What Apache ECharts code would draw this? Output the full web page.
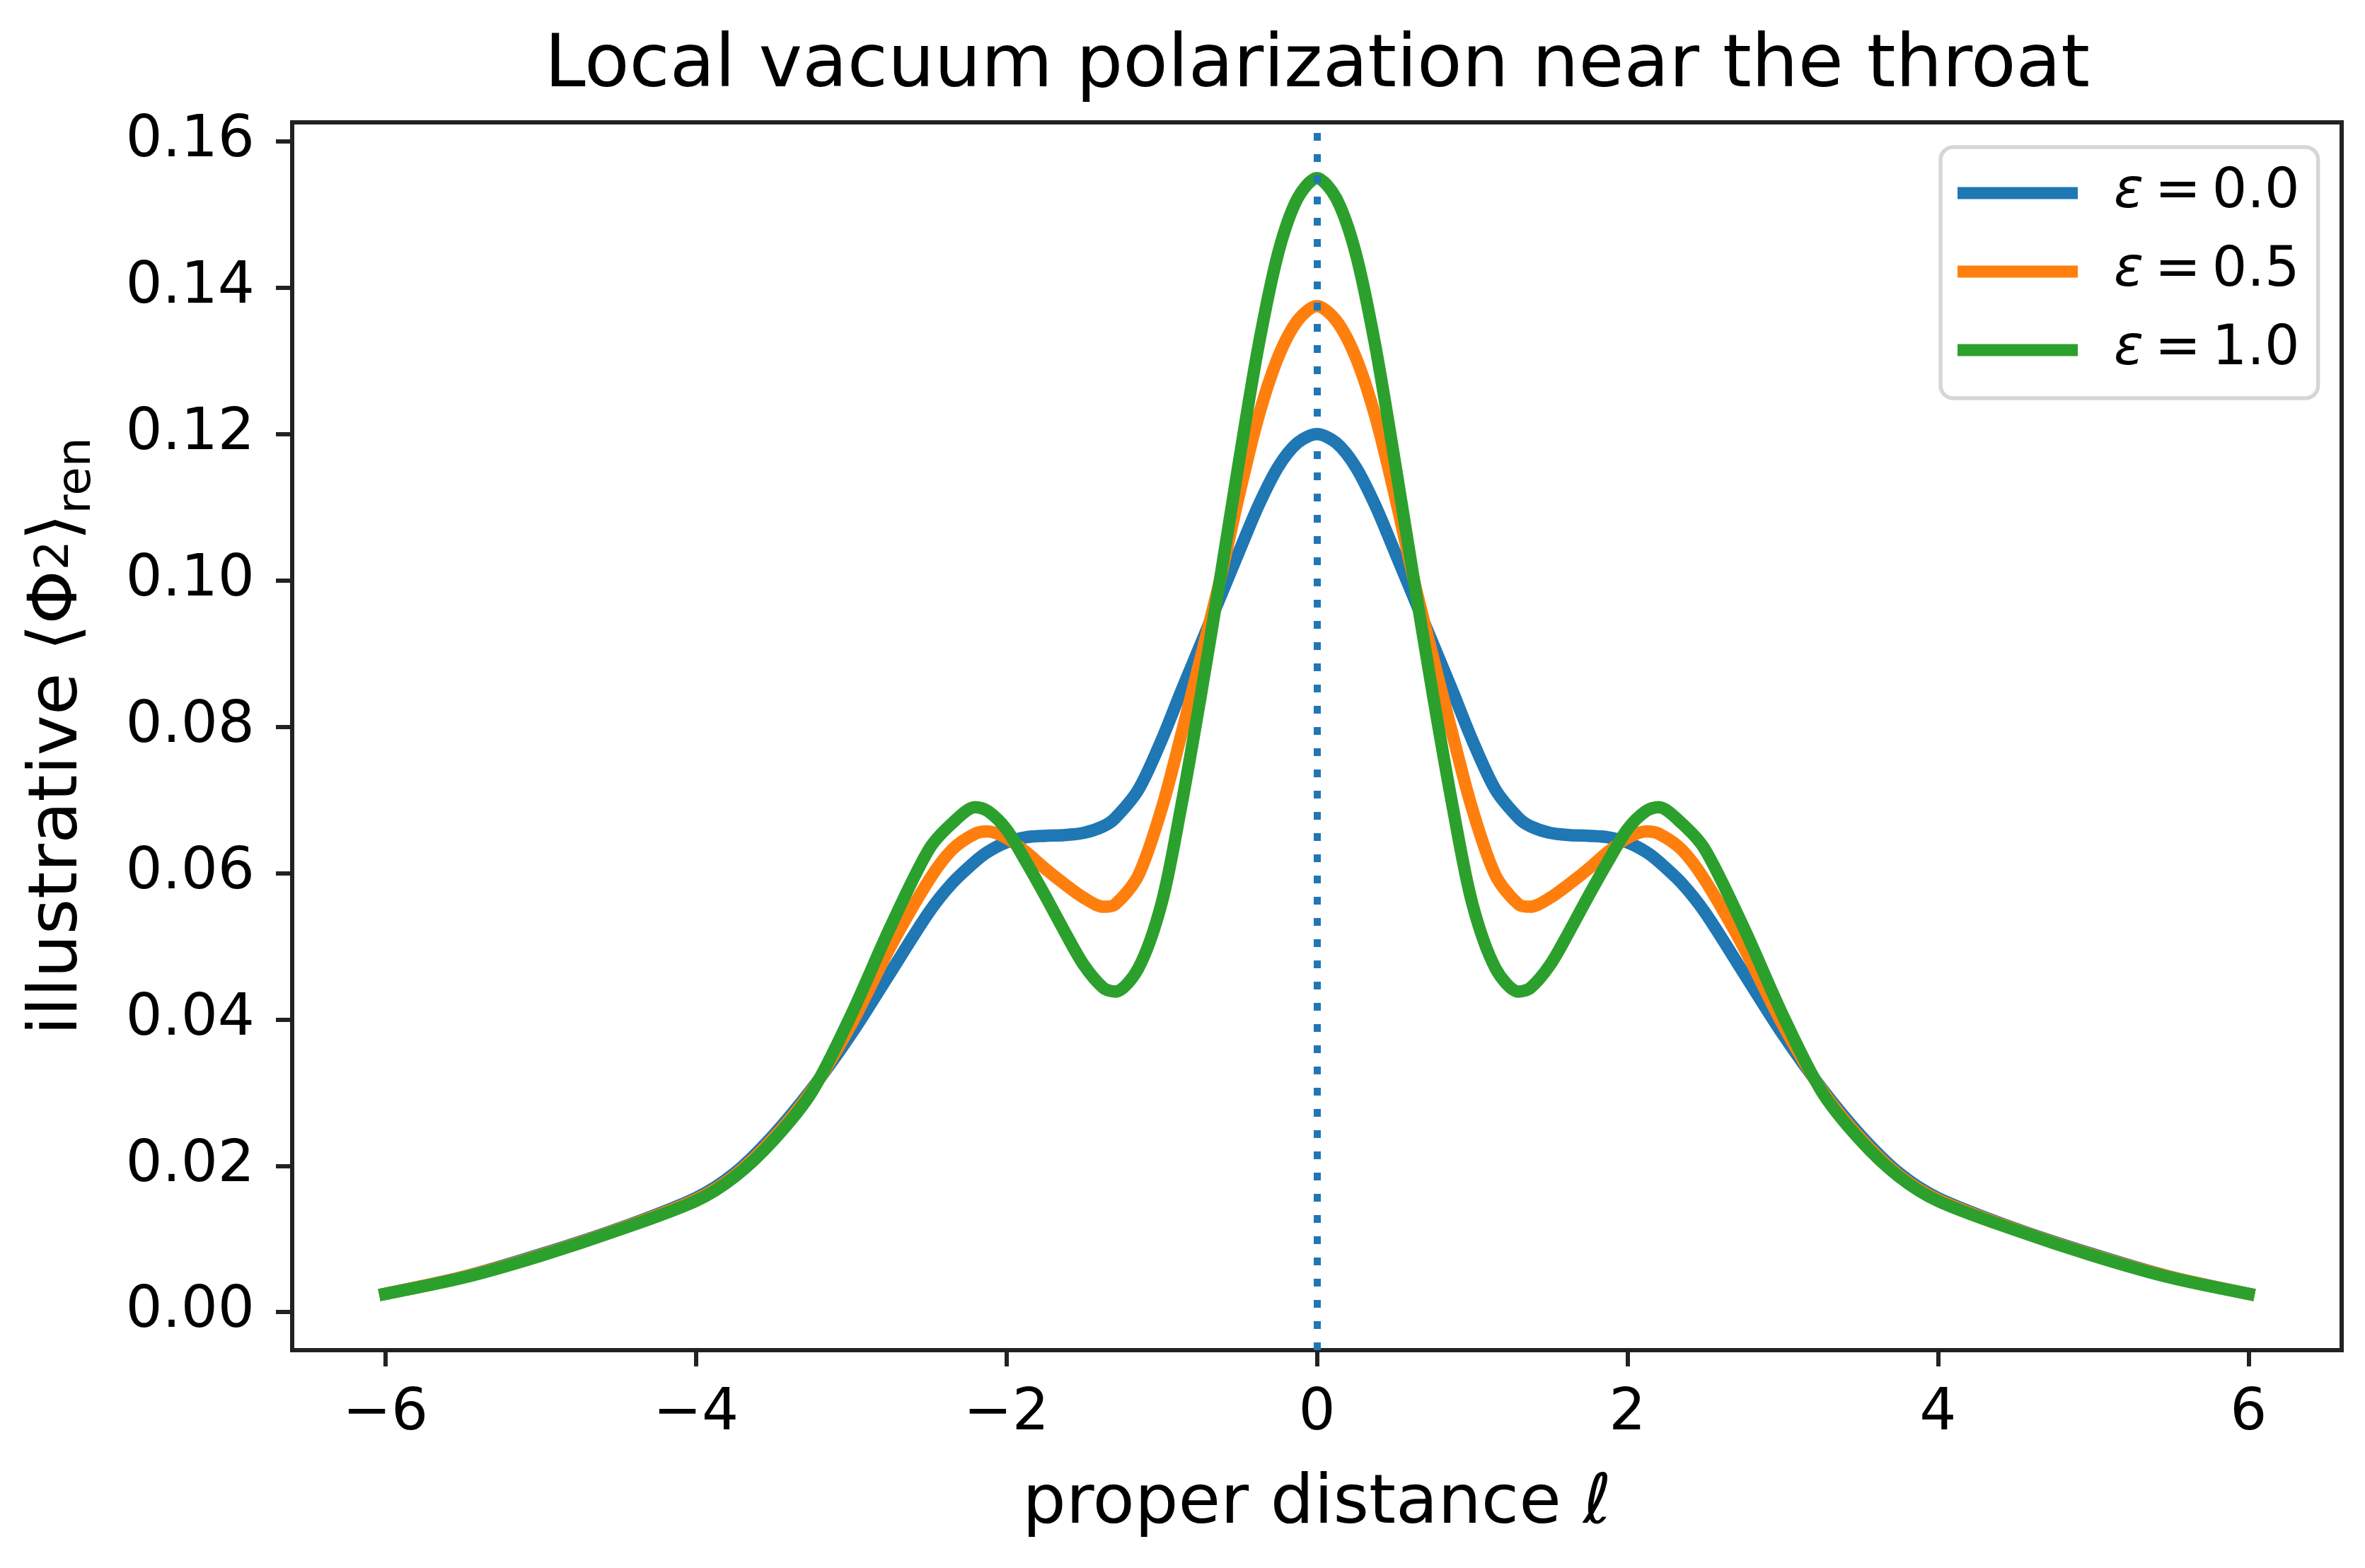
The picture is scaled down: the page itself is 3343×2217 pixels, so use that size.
<!DOCTYPE html>
<html lang="en">
<head>
  <meta charset="UTF-8">
  <title>Local vacuum polarization near the throat</title>
  <script src="https://cdn.jsdelivr.net/npm/echarts@6/dist/echarts.min.js"></script>
  <style>
    html, body { margin: 0; padding: 0; background: #fff; }
    #chart { width: 3343px; height: 2217px; }
  </style>
</head>
<body>
  <div id="chart"></div>
  <script>
    // proper distance samples
    const ell = [
      -6, -5.5, -5, -4.5, -4, -3.75, -3.5, -3.25, -3, -2.75,
      -2.5, -2.35, -2.2, -2.12, -2, -1.875, -1.75, -1.625, -1.5, -1.375,
      -1.3, -1.15, -1, -0.875, -0.75, -0.625, -0.5, -0.375, -0.25, -0.125,
      0,
      0.125, 0.25, 0.375, 0.5, 0.625, 0.75, 0.875, 1, 1.15, 1.3,
      1.375, 1.5, 1.625, 1.75, 1.875, 2, 2.12, 2.2, 2.35, 2.5,
      2.75, 3, 3.25, 3.5, 3.75, 4, 4.5, 5, 5.5, 6
    ];
    const eps00 = [
      0.0025, 0.0048, 0.0079, 0.0114, 0.0156, 0.0190, 0.0242, 0.0306, 0.0380, 0.0463,
      0.0546, 0.0586, 0.0616, 0.0629, 0.0642, 0.0649, 0.0651, 0.0652, 0.0655, 0.0664,
      0.0675, 0.0714, 0.0782, 0.0848, 0.0912, 0.0976, 0.1040, 0.1103, 0.1155, 0.1188,
      0.1200,
      0.1188, 0.1155, 0.1103, 0.1040, 0.0976, 0.0912, 0.0848, 0.0782, 0.0714, 0.0675,
      0.0664, 0.0655, 0.0652, 0.0651, 0.0649, 0.0642, 0.0629, 0.0616, 0.0586, 0.0546,
      0.0463, 0.0380, 0.0306, 0.0242, 0.0190, 0.0156, 0.0114, 0.0079, 0.0048, 0.0025
    ];
    const eps05 = [
      0.0025, 0.0048, 0.0078, 0.0113, 0.0154, 0.0187, 0.0238, 0.0304, 0.0393, 0.0498,
      0.0590, 0.0632, 0.0654, 0.0657, 0.0648, 0.0629, 0.0606, 0.0585, 0.0566, 0.0554,
      0.0557, 0.0597, 0.0688, 0.0788, 0.0893, 0.1000, 0.1118, 0.1225, 0.1305, 0.1355,
      0.1375,
      0.1355, 0.1305, 0.1225, 0.1118, 0.1000, 0.0893, 0.0788, 0.0688, 0.0597, 0.0557,
      0.0554, 0.0566, 0.0585, 0.0606, 0.0629, 0.0648, 0.0657, 0.0654, 0.0632, 0.0590,
      0.0498, 0.0393, 0.0304, 0.0238, 0.0187, 0.0154, 0.0113, 0.0078, 0.0048, 0.0025
    ];
    const eps10 = [
      0.0025, 0.0047, 0.0077, 0.0112, 0.0152, 0.0185, 0.0235, 0.0302, 0.0406, 0.0525,
      0.0632, 0.0668, 0.0690, 0.0685, 0.0660, 0.0616, 0.0569, 0.0520, 0.0474, 0.0443,
      0.0438, 0.0470, 0.0559, 0.0690, 0.0840, 0.1000, 0.1165, 0.1322, 0.1447, 0.1522,
      0.1550,
      0.1522, 0.1447, 0.1322, 0.1165, 0.1000, 0.0840, 0.0690, 0.0559, 0.0470, 0.0438,
      0.0443, 0.0474, 0.0520, 0.0569, 0.0616, 0.0660, 0.0685, 0.0690, 0.0668, 0.0632,
      0.0525, 0.0406, 0.0302, 0.0235, 0.0185, 0.0152, 0.0112, 0.0077, 0.0047, 0.0025
    ];
    const seriesNames = ['ε = 0.0', 'ε = 0.5', 'ε = 1.0'];
    const xTicks = [-6, -4, -2, 0, 2, 4, 6];
    const yTicks = [0, 0.02, 0.04, 0.06, 0.08, 0.10, 0.12, 0.14, 0.16];
    const throatAt = 0;

    const FONT = '"DejaVu Sans", "Noto Sans", sans-serif';
    const INK = '#222';
    const colors = ['#1f77b4', '#ff7f0e', '#2ca02c'];

    const chart = echarts.init(document.getElementById('chart'));

    function curve(name, vals, color, withMark) {
      const s = {
        name: name,
        type: 'line',
        data: ell.map((x, i) => [x, vals[i]]),
        smooth: 0.3,
        symbol: 'none',
        showSymbol: false,
        color: color,
        lineStyle: { width: 17.5, color: color, cap: 'square', join: 'round' },
        emphasis: { disabled: true },
        silent: true
      };
      if (withMark) {
        // dotted marker at the throat
        s.markLine = {
          silent: true,
          symbol: ['none', 'none'],
          label: { show: false },
          lineStyle: { type: [11, 19], width: 10, color: '#1f77b4', cap: 'butt' },
          emphasis: { disabled: true },
          data: [{ xAxis: throatAt }]
        };
      }
      return s;
    }

    const option = {
      animation: false,
      backgroundColor: '#fff',
      graphic: [{
        type: 'text',
        x: 1862,
        y: 95,
        style: {
          text: 'Local vacuum polarization near the throat',
          fontSize: 104,
          fontFamily: FONT,
          fill: '#000',
          align: 'center',
          verticalAlign: 'middle'
        }
      }],
      grid: {
        left: 413, top: 173, width: 2897, height: 1736,
        show: true, borderColor: INK, borderWidth: 6,
        containLabel: false, outerBoundsMode: 'none'
      },
      legend: {
        orient: 'vertical',
        left: 2743,
        top: 208,
        padding: [20, 26, 23, 24],
        itemGap: 21,
        itemWidth: 170,
        itemHeight: 17,
        icon: 'rect',
        backgroundColor: '#fff',
        borderColor: '#d6d6d6',
        borderWidth: 5.5,
        borderRadius: 18,
        selectedMode: false,
        data: seriesNames,
        formatter: name => '{e|ε}{t|' + name.slice(1).replace(/ /g, '\u2009') + '}',
        textStyle: {
          fontSize: 78, fontFamily: FONT, color: '#000', lineHeight: 90,
          rich: {
            e: { fontSize: 78, fontFamily: FONT, fontStyle: 'italic', lineHeight: 90, padding: [0, 0, 0, 46] },
            t: { fontSize: 78, fontFamily: FONT, lineHeight: 90 }
          }
        }
      },
      xAxis: {
        type: 'value',
        min: -6.6,
        max: 6.6,
        name: '{a|proper distance }{i|ℓ}',
        nameLocation: 'middle',
        nameGap: 170,
        nameMoveOverlap: false,
        nameTextStyle: {
          fontSize: 97, fontFamily: FONT, color: '#000',
          rich: {
            a: { fontSize: 97, fontFamily: FONT, color: '#000' },
            i: { fontSize: 97, fontFamily: FONT, color: '#000', fontStyle: 'italic' }
          }
        },
        axisLine: { show: false, onZero: false },
        splitLine: { show: false },
        axisTick: { show: true, length: 23, lineStyle: { width: 6, color: INK }, customValues: xTicks },
        axisLabel: {
          customValues: xTicks,
          margin: 50,
          fontSize: 82, fontFamily: FONT, color: '#000',
          formatter: v => String(v).replace('-', '\u2212')
        }
      },
      yAxis: {
        type: 'value',
        min: -0.0052,
        max: 0.1626,
        name: '{a|illustrative ⟨Φ}{s|2}{a|⟩}{b|ren}',
        nameLocation: 'middle',
        nameRotate: 90,
        nameGap: 270,
        nameMoveOverlap: false,
        nameTextStyle: {
          fontSize: 97, fontFamily: FONT, color: '#000',
          rich: {
            a: { fontSize: 97, fontFamily: FONT, color: '#000', lineHeight: 97, verticalAlign: 'bottom', padding: [0, 0, 12, 0] },
            s: { fontSize: 66, fontFamily: FONT, color: '#000', lineHeight: 66, verticalAlign: 'top', padding: [0, 0, 59, 0] },
            b: { fontSize: 66, fontFamily: FONT, color: '#000', lineHeight: 66, verticalAlign: 'bottom' }
          }
        },
        axisLine: { show: false, onZero: false },
        splitLine: { show: false },
        axisTick: { show: true, length: 23, lineStyle: { width: 6, color: INK }, customValues: yTicks },
        axisLabel: {
          customValues: yTicks,
          margin: 53,
          fontSize: 82, fontFamily: FONT, color: '#000',
          formatter: v => v.toFixed(2)
        }
      },
      series: [
        curve(seriesNames[0], eps00, colors[0], false),
        curve(seriesNames[1], eps05, colors[1], false),
        curve(seriesNames[2], eps10, colors[2], true)
      ]
    };

    chart.setOption(option);
  </script>
</body>
</html>
